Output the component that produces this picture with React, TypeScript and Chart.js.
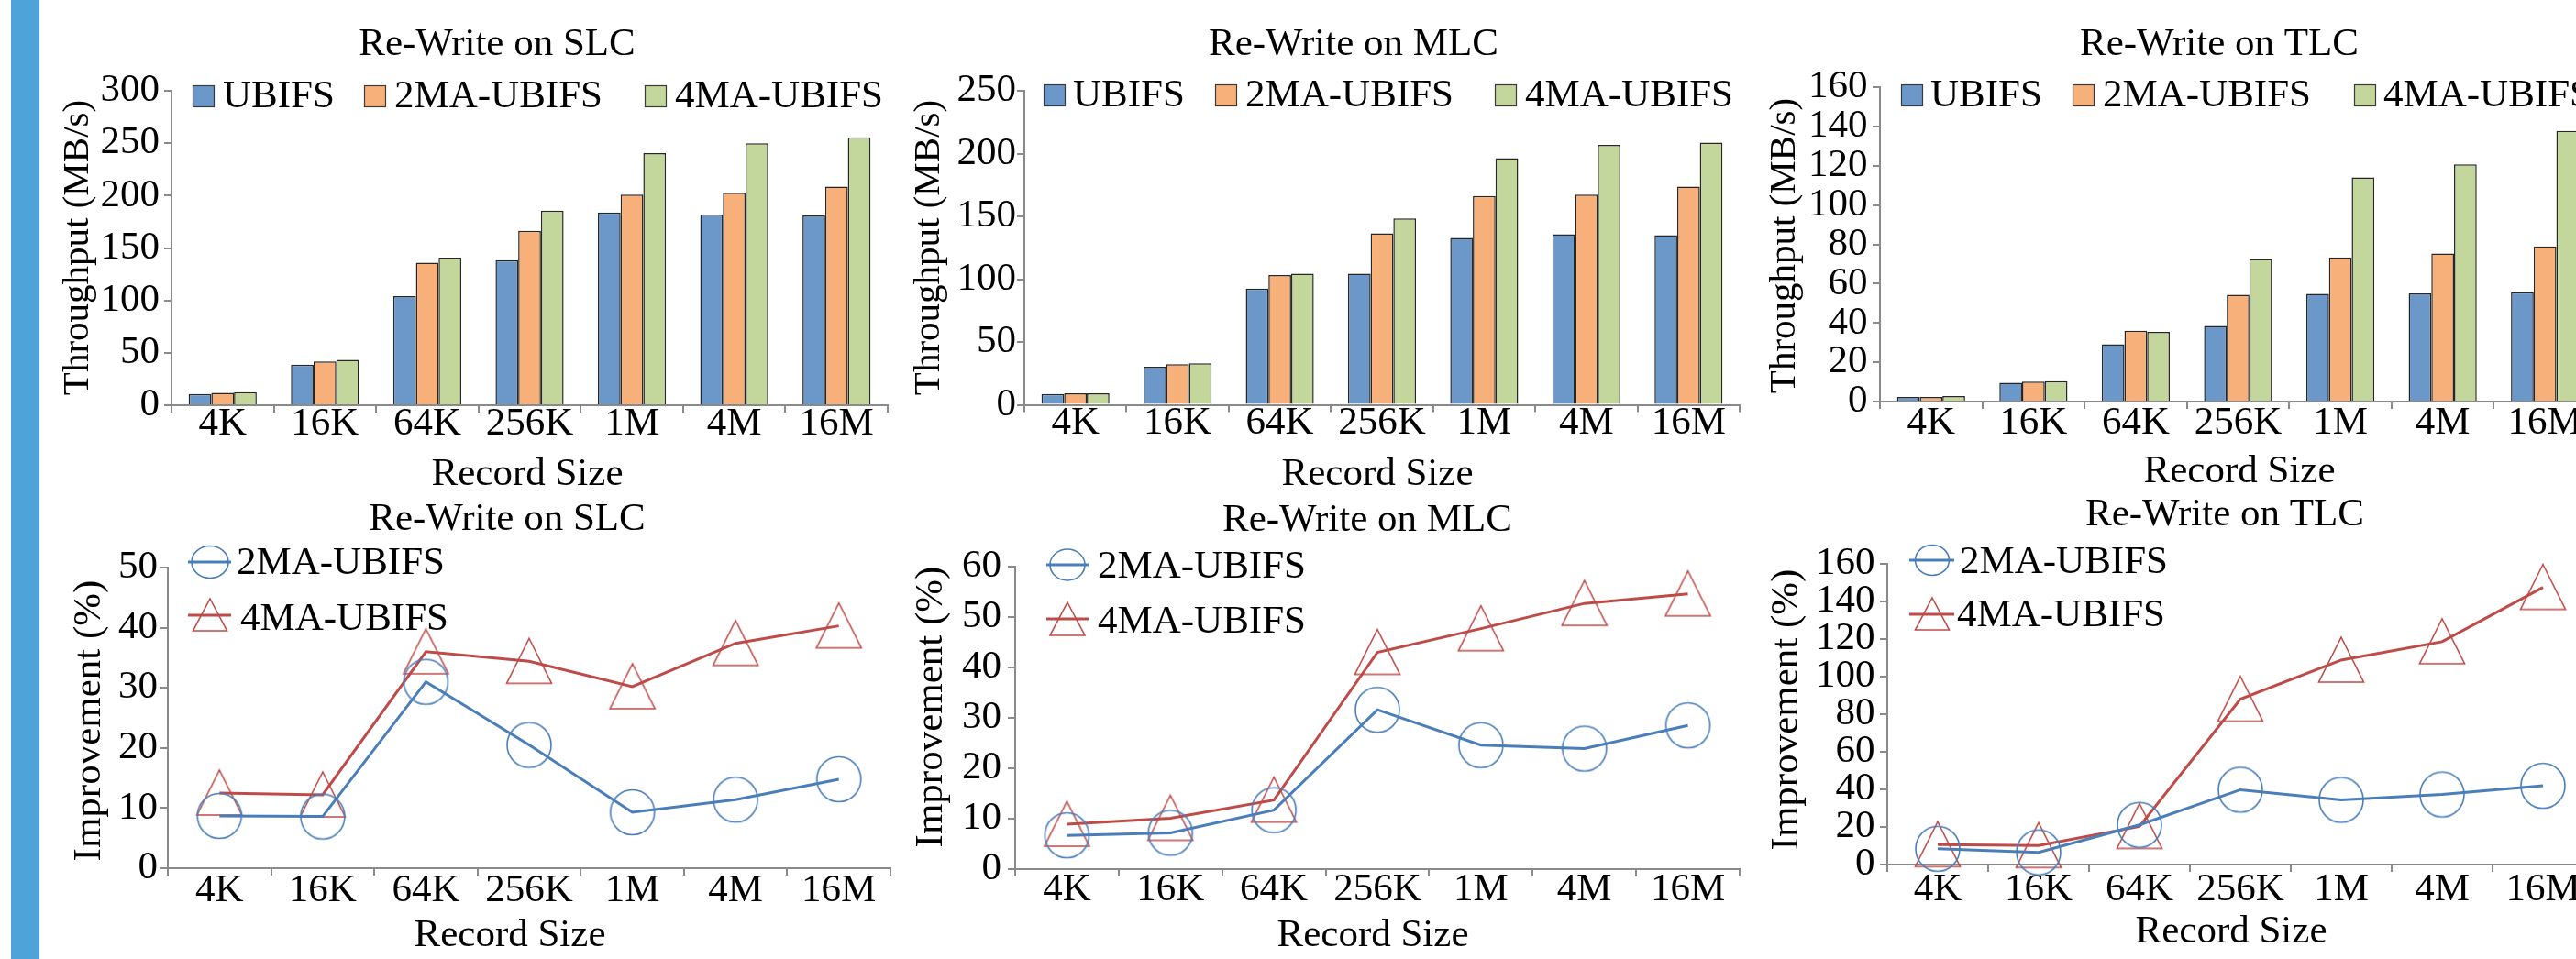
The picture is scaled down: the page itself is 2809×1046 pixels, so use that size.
import React, { useEffect, useRef } from 'react';
import { Chart, registerables } from 'chart.js';

Chart.register(...registerables);

// ---------- data ----------
const categories = ['4K', '16K', '64K', '256K', '1M', '4M', '16M'];
const barSeriesNames = ['UBIFS', '2MA-UBIFS', '4MA-UBIFS'];
const lineSeriesNames = ['2MA-UBIFS', '4MA-UBIFS'];

// Throughput (MB/s)
const slcUbifs = [10.8, 38.8, 104, 138.5, 184, 182, 181];
const slc2ma = [11.7, 41.7, 136, 166.5, 201, 202.6, 208.5];
const slc4ma = [12.5, 43.4, 140.8, 185.7, 240.5, 249.9, 255.7];

const mlcUbifs = [8.5, 30.3, 92.6, 104.3, 132.8, 135.7, 135];
const mlc2ma = [9.1, 32.3, 103.2, 136.5, 166.2, 167.4, 173.7];
const mlc4ma = [9.2, 33.0, 104.4, 148.4, 196.4, 207, 208.7];

const tlcUbifs = [2.3, 9.6, 29.2, 38.5, 54.8, 55.1, 55.6];
const tlc2ma = [2.3, 10.1, 36.0, 54.3, 73.4, 75.3, 78.9];
const tlc4ma = [2.8, 10.4, 35.4, 72.5, 114.1, 120.7, 137.7];

// Improvement (%)
const slcImp2 = [8.7, 8.6, 31.0, 20.5, 9.3, 11.4, 14.8];
const slcImp4 = [12.5, 12.2, 36.0, 34.4, 30.2, 37.4, 40.3];
const mlcImp2 = [6.7, 7.2, 11.7, 31.6, 24.6, 23.9, 28.5];
const mlcImp4 = [8.9, 10.1, 13.7, 43.0, 47.7, 52.7, 54.6];
const tlcImp2 = [8.4, 6.5, 21.1, 39.8, 34.4, 37.3, 41.9];
const tlcImp4 = [10.6, 10.1, 20.3, 88.0, 108.8, 118.6, 147.5];

// ---------- styles ----------
const FONT = '"Liberation Serif", "Times New Roman", serif';
const CW = 2900;
const CH = 1046;
const YW = 100;
const XH = 70;
const AXIS = '#8a8a8a';
const BAR_COLORS = ['#6C97C9', '#F8B07A', '#C3D69B'];
const BAR_EDGE = '#262626';
const LINE_COLORS = ['#4A7EBB', '#BE4B48'];

type Plot = { x0: number; yT: number; x1: number; yB: number };

type BarLegend = { boxX: number[]; textX: number[]; boxTop: number; baseline: number };
type LineLegend = {
  lineX: [number, number];
  cx: number;
  circle: { y: number; textX: number; base: number; rx: number; ry: number };
  tri: { y: number; textX: number; base: number; top: number; bot: number; hw: number };
};

type Panel = {
  kind: 'bar' | 'line';
  series: number[][];
  plot: Plot;
  yMax: number;
  yStep: number;
  yPad: number;
  xPad: number;
  title: string;
  titleAt: [number, number];
  xTitleAt: [number, number];
  yTitle: string;
  yTitleAt: [number, number];
  yTitleSize: number;
  barLegend?: BarLegend;
  lineLegend?: LineLegend;
};

const panels: Panel[] = [
  {
    kind: 'bar', series: [slcUbifs, slc2ma, slc4ma],
    plot: { x0: 187, yT: 99, x1: 968, yB: 442 }, yMax: 300, yStep: 50, yPad: 5, xPad: -8.5,
    title: 'Re-Write on SLC', titleAt: [542, 60], xTitleAt: [575, 529],
    yTitle: 'Throughput (MB/s)', yTitleAt: [96, 270], yTitleSize: 41,
    barLegend: { boxX: [210, 397, 703], textX: [243, 430, 736], boxTop: 93, baseline: 117 },
  },
  {
    kind: 'bar', series: [mlcUbifs, mlc2ma, mlc4ma],
    plot: { x0: 1117, yT: 99, x1: 1897, yB: 441.5 }, yMax: 250, yStep: 50, yPad: 1, xPad: -9,
    title: 'Re-Write on MLC', titleAt: [1476, 60], xTitleAt: [1502, 529],
    yTitle: 'Throughput (MB/s)', yTitleAt: [1024, 270], yTitleSize: 41,
    barLegend: { boxX: [1138, 1325, 1630], textX: [1170, 1358, 1663], boxTop: 92, baseline: 116 },
  },
  {
    kind: 'bar', series: [tlcUbifs, tlc2ma, tlc4ma],
    plot: { x0: 2050, yT: 95, x1: 2831, yB: 438 }, yMax: 160, yStep: 20, yPad: 5.5, xPad: -5.5,
    title: 'Re-Write on TLC', titleAt: [2420, 60], xTitleAt: [2442, 526],
    yTitle: 'Throughput (MB/s)', yTitleAt: [1957, 268], yTitleSize: 41,
    barLegend: { boxX: [2073, 2260, 2567], textX: [2105, 2293, 2599], boxTop: 92, baseline: 116 },
  },
  {
    kind: 'line', series: [slcImp2, slcImp4],
    plot: { x0: 183, yT: 619, x1: 971, yB: 947 }, yMax: 50, yStep: 10, yPad: 3, xPad: -4.5,
    title: 'Re-Write on SLC', titleAt: [553, 578], xTitleAt: [556, 1032],
    yTitle: 'Improvement (%)', yTitleAt: [109, 786], yTitleSize: 43,
    lineLegend: {
      lineX: [205, 252], cx: 229,
      circle: { y: 613, textX: 258, base: 626, rx: 20, ry: 17.5 },
      tri: { y: 671, textX: 262, base: 687, top: 653, bot: 688, hw: 18.5 },
    },
  },
  {
    kind: 'line', series: [mlcImp2, mlcImp4],
    plot: { x0: 1107, yT: 618, x1: 1897, yB: 948 }, yMax: 60, yStep: 10, yPad: 7, xPad: -7,
    title: 'Re-Write on MLC', titleAt: [1491, 579], xTitleAt: [1497, 1032],
    yTitle: 'Improvement (%)', yTitleAt: [1027, 771], yTitleSize: 43,
    lineLegend: {
      lineX: [1141, 1187], cx: 1164,
      circle: { y: 616, textX: 1197, base: 630, rx: 19, ry: 17 },
      tri: { y: 675, textX: 1197, base: 690, top: 657, bot: 693, hw: 19 },
    },
  },
  {
    kind: 'line', series: [tlcImp2, tlcImp4],
    plot: { x0: 2058, yT: 615, x1: 2828, yB: 943 }, yMax: 160, yStep: 20, yPad: 5.5, xPad: -2,
    title: 'Re-Write on TLC', titleAt: [2426, 573], xTitleAt: [2433, 1028],
    yTitle: 'Improvement (%)', yTitleAt: [1960, 774], yTitleSize: 43,
    lineLegend: {
      lineX: [2082, 2131], cx: 2107,
      circle: { y: 611, textX: 2137, base: 625, rx: 18.5, ry: 16.5 },
      tri: { y: 670, textX: 2134, base: 683, top: 652, bot: 687, hw: 18.5 },
    },
  },
];

function makeCircleImage(color: string): HTMLCanvasElement {
  const c = document.createElement('canvas');
  c.width = 54; c.height = 54;
  const g = c.getContext('2d')!;
  g.strokeStyle = color; g.lineWidth = 1.6;
  g.beginPath(); g.ellipse(27, 27, 24, 24.5, 0, 0, Math.PI * 2); g.stroke();
  return c;
}

function makeTriangleImage(color: string): HTMLCanvasElement {
  const c = document.createElement('canvas');
  c.width = 54; c.height = 54;
  const g = c.getContext('2d')!;
  g.strokeStyle = color; g.lineWidth = 1.6;
  g.beginPath(); g.moveTo(27, 2); g.lineTo(51.5, 51); g.lineTo(2.5, 51); g.closePath(); g.stroke();
  return c;
}

function decorPlugin(p: Panel) {
  return {
    id: 'decor',
    afterDraw(chart: any) {
      const ctx: CanvasRenderingContext2D = chart.ctx;
      ctx.save();
      ctx.fillStyle = '#000';
      ctx.textAlign = 'center';
      ctx.textBaseline = 'alphabetic';
      ctx.font = `43px ${FONT}`;
      ctx.fillText(p.title, p.titleAt[0], p.titleAt[1]);
      ctx.fillText('Record Size', p.xTitleAt[0], p.xTitleAt[1]);
      ctx.save();
      ctx.translate(p.yTitleAt[0], p.yTitleAt[1]);
      ctx.rotate(-Math.PI / 2);
      ctx.font = `${p.yTitleSize}px ${FONT}`;
      ctx.fillText(p.yTitle, 0, 0);
      ctx.restore();

      ctx.textAlign = 'left';
      ctx.font = `43px ${FONT}`;
      if (p.barLegend) {
        const L = p.barLegend;
        chart.data.datasets.forEach((ds: any, i: number) => {
          ctx.fillStyle = ds.backgroundColor;
          ctx.fillRect(L.boxX[i], L.boxTop, 24, 24);
          ctx.strokeStyle = '#3a3a3a';
          ctx.lineWidth = 1.2;
          ctx.strokeRect(L.boxX[i] + 0.5, L.boxTop + 0.5, 23, 23);
          ctx.fillStyle = '#000';
          ctx.fillText(ds.label, L.textX[i], L.baseline);
        });
      }
      if (p.lineLegend) {
        const L = p.lineLegend;
        const ds = chart.data.datasets;
        ctx.strokeStyle = ds[0].borderColor;
        ctx.lineWidth = 3;
        ctx.beginPath(); ctx.moveTo(L.lineX[0], L.circle.y); ctx.lineTo(L.lineX[1], L.circle.y); ctx.stroke();
        ctx.lineWidth = 1.6;
        ctx.beginPath(); ctx.ellipse(L.cx, L.circle.y, L.circle.rx, L.circle.ry, 0, 0, Math.PI * 2); ctx.stroke();
        ctx.fillStyle = '#000';
        ctx.fillText(ds[0].label, L.circle.textX, L.circle.base);
        ctx.strokeStyle = ds[1].borderColor;
        ctx.lineWidth = 3;
        ctx.beginPath(); ctx.moveTo(L.lineX[0], L.tri.y); ctx.lineTo(L.lineX[1], L.tri.y); ctx.stroke();
        ctx.lineWidth = 1.6;
        ctx.beginPath();
        ctx.moveTo(L.cx, L.tri.top);
        ctx.lineTo(L.cx + L.tri.hw, L.tri.bot);
        ctx.lineTo(L.cx - L.tri.hw, L.tri.bot);
        ctx.closePath(); ctx.stroke();
        ctx.fillText(ds[1].label, L.tri.textX, L.tri.base);
      }
      ctx.restore();
    },
  };
}

function buildConfig(p: Panel): any {
  const tickFont = { family: FONT, size: 43, lineHeight: 1 };
  const grid = { drawOnChartArea: false, drawTicks: true, tickLength: 8, color: AXIS, lineWidth: 2 };
  const border = { display: true, color: AXIS, width: 2 };
  let datasets: any[];
  if (p.kind === 'bar') {
    datasets = p.series.map((data, i) => ({
      label: barSeriesNames[i],
      data,
      backgroundColor: BAR_COLORS[i],
      borderColor: BAR_EDGE,
      borderWidth: 1.5,
      borderSkipped: 'bottom',
      categoryPercentage: 0.665,
      barPercentage: 1,
    }));
  } else {
    const imgs = [makeCircleImage(LINE_COLORS[0]), makeTriangleImage(LINE_COLORS[1])];
    datasets = p.series.map((data, i) => ({
      label: lineSeriesNames[i],
      data,
      borderColor: LINE_COLORS[i],
      backgroundColor: 'transparent',
      borderWidth: 3,
      tension: 0,
      pointStyle: imgs[i],
      pointRadius: 24,
      clip: false,
    }));
  }
  return {
    type: p.kind,
    data: { labels: categories, datasets },
    options: {
      responsive: false,
      maintainAspectRatio: false,
      animation: false,
      events: [],
      layout: {
        padding: {
          left: p.plot.x0 - YW,
          top: p.plot.yT,
          right: CW - p.plot.x1,
          bottom: CH - p.plot.yB - XH,
        },
      },
      plugins: { legend: { display: false }, tooltip: { enabled: false }, title: { display: false } },
      scales: {
        x: {
          type: 'category',
          offset: true,
          grid: { ...grid, offset: true },
          border,
          ticks: { font: tickFont, color: '#000', padding: p.xPad, maxRotation: 0, minRotation: 0, autoSkip: false },
          afterFit: (s: any) => { s.height = XH; },
        },
        y: {
          type: 'linear',
          min: 0,
          max: p.yMax,
          grid,
          border,
          ticks: { stepSize: p.yStep, font: tickFont, color: '#000', padding: p.yPad, autoSkip: false },
          afterFit: (s: any) => { s.width = YW; },
        },
      },
    },
    plugins: [decorPlugin(p)],
  };
}

function PanelChart({ panel }: { panel: Panel }) {
  const ref = useRef<HTMLCanvasElement | null>(null);
  useEffect(() => {
    if (!ref.current) return;
    const chart = new Chart(ref.current, buildConfig(panel));
    return () => chart.destroy();
  }, [panel]);
  return (
    <canvas
      ref={ref}
      width={CW}
      height={CH}
      style={{ position: 'absolute', left: 0, top: 0, width: CW, height: CH }}
    />
  );
}

export default function App() {
  useEffect(() => {
    document.body.style.margin = '0';
    document.body.style.overflow = 'hidden';
  }, []);
  return (
    <div
      style={{
        position: 'absolute', left: 0, top: 0, width: 2809, height: 1046,
        overflow: 'hidden', background: '#fff',
      }}
    >
      <div style={{ position: 'absolute', left: 12, top: 0, width: 31, height: 1046, background: '#4EA3D8' }} />
      {panels.map((p, i) => (
        <PanelChart key={i} panel={p} />
      ))}
    </div>
  );
}
